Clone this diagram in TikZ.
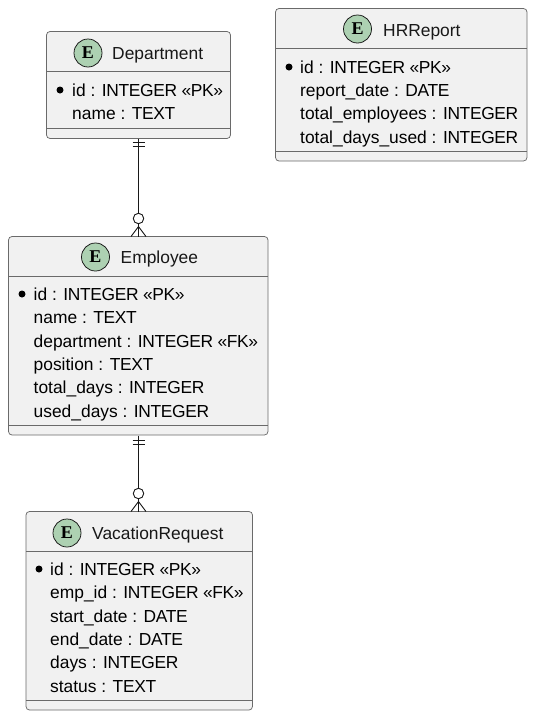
\documentclass[tikz,border=0pt]{standalone}
\usepackage{fontspec}
\setmainfont{Liberation Sans}
\newfontfamily\badgefont{Liberation Serif}
\newfontfamily\capsfont[LetterSpace=-2.0]{Liberation Sans}
\newcommand{\ty}[1]{{\capsfont #1}}
\definecolor{boxfill}{HTML}{F1F1F1}
\definecolor{boxline}{HTML}{6A6A6A}
\definecolor{badge}{HTML}{ADD1B2}
\definecolor{ink}{HTML}{181818}
\tikzset{
  entity/.style={draw=boxline,fill=boxfill,line width=0.75pt,rounded corners=3.5pt,inner sep=0pt,outer sep=0pt},
  sep/.style={draw=boxline,line width=0.75pt},
  badgec/.style={circle,draw=ink,fill=badge,line width=0.75pt,minimum size=28pt,inner sep=0pt,font=\fontsize{18}{18}\badgefont\bfseries,text=black},
  title/.style={anchor=base west,inner sep=0pt,font=\fontsize{17.4}{18}\selectfont,text=ink},
  attr/.style={anchor=base west,inner sep=0pt,font=\fontsize{17.4}{18}\selectfont,text=black},
  pk/.style={circle,fill=black,minimum size=7pt,inner sep=0pt},
  rel/.style={draw=ink,line width=1.1pt},
  crow/.style={draw=ink,line width=0.9pt},
  ring/.style={circle,draw=ink,fill=white,line width=0.9pt,minimum size=10.5pt,inner sep=0pt}
}
\begin{document}
\begin{tikzpicture}[x=1pt,y=-1pt]
\useasboundingbox (0,0) rectangle (535,718);
\fill[white] (0,0) rectangle (535,718);

% Department
\node[entity,minimum width=184pt,minimum height=107pt] (dept) at (138.5,85) {};
\draw[sep] (dept.west |- 0,71.5) -- (dept.east |- 0,71.5);
\draw[sep] (dept.west |- 0,128) -- (dept.east |- 0,128);
\node[badgec] (deptb) at (88,53) {E};
\node[title] (deptt) at (112,59) {Department};
\node[pk] (deptk) at (60,90) {};
\node[attr] (d1) at (72,96) {id : \ty{INTEGER «PK»}};
\node[attr] (d2) at (72,119) {name : \ty{TEXT}};

% HRReport
\node[entity,minimum width=251.5pt,minimum height=152.5pt] (hr) at (401.25,84.75) {};
\draw[sep] (hr.west |- 0,48) -- (hr.east |- 0,48);
\draw[sep] (hr.west |- 0,151) -- (hr.east |- 0,151);
\node[badgec] (hrb) at (357.5,29) {E};
\node[title] (hrt) at (383,36) {HRReport};
\node[pk] (hrk) at (289,67) {};
\node[attr] (h1) at (300,73) {id : \ty{INTEGER «PK»}};
\node[attr] (h2) at (300,96.5) {report\_date : \ty{DATE}};
\node[attr] (h3) at (300,119.5) {total\_employees : \ty{INTEGER}};
\node[attr] (h4) at (300,143) {total\_days\_used : \ty{INTEGER}};

% Employee
\node[entity,minimum width=259.5pt,minimum height=198.5pt] (emp) at (138.25,335.75) {};
\draw[sep] (emp.west |- 0,276) -- (emp.east |- 0,276);
\draw[sep] (emp.west |- 0,425) -- (emp.east |- 0,425);
\node[badgec] (empb) at (95.5,257) {E};
\node[title] (empt) at (120.5,263) {Employee};
\node[pk] (empk) at (22,294) {};
\node[attr] (e1) at (33.5,300) {id : \ty{INTEGER «PK»}};
\node[attr] (e2) at (33.5,323.5) {name : \ty{TEXT}};
\node[attr] (e3) at (33.5,347) {department : \ty{INTEGER «FK»}};
\node[attr] (e4) at (33.5,370) {position : \ty{TEXT}};
\node[attr] (e5) at (33.5,393.5) {total\_days : \ty{INTEGER}};
\node[attr] (e6) at (33.5,417) {used\_days : \ty{INTEGER}};

% VacationRequest
\node[entity,minimum width=226.5pt,minimum height=198.5pt] (vac) at (139.25,610.75) {};
\draw[sep] (vac.west |- 0,551) -- (vac.east |- 0,551);
\draw[sep] (vac.west |- 0,700) -- (vac.east |- 0,700);
\node[badgec] (vacb) at (67,533) {E};
\node[title] (vact) at (92,539) {VacationRequest};
\node[pk] (vack) at (39,569) {};
\node[attr] (v1) at (50,575) {id : \ty{INTEGER «PK»}};
\node[attr] (v2) at (50,598.5) {emp\_id : \ty{INTEGER «FK»}};
\node[attr] (v3) at (50,622) {start\_date : \ty{DATE}};
\node[attr] (v4) at (50,645) {end\_date : \ty{DATE}};
\node[attr] (v5) at (50,668.5) {days : \ty{INTEGER}};
\node[attr] (v6) at (50,692) {status : \ty{TEXT}};

% Department -- Employee
\coordinate (a1) at (138.5,138.5);
\coordinate (a2) at (138.5,236.5);
\draw[rel] (a1) -- (a2);
\draw[crow] ([xshift=-6pt,yshift=-4pt]a1) -- ([xshift=6pt,yshift=-4pt]a1);
\draw[crow] ([xshift=-6pt,yshift=-8pt]a1) -- ([xshift=6pt,yshift=-8pt]a1);
\draw[crow] (131,236.5) -- (138.5,226.5) -- (146,236.5);
\node[ring] (r1) at (138.5,218.5) {};

% Employee -- VacationRequest
\coordinate (b1) at (138.5,435.5);
\coordinate (b2) at (138.5,511.5);
\draw[rel] (b1) -- (b2);
\draw[crow] ([xshift=-6pt,yshift=-5pt]b1) -- ([xshift=6pt,yshift=-5pt]b1);
\draw[crow] ([xshift=-6pt,yshift=-9pt]b1) -- ([xshift=6pt,yshift=-9pt]b1);
\draw[crow] (131,511.5) -- (138.5,501.5) -- (146,511.5);
\node[ring] (r2) at (138.5,493.5) {};
\end{tikzpicture}
\end{document}
